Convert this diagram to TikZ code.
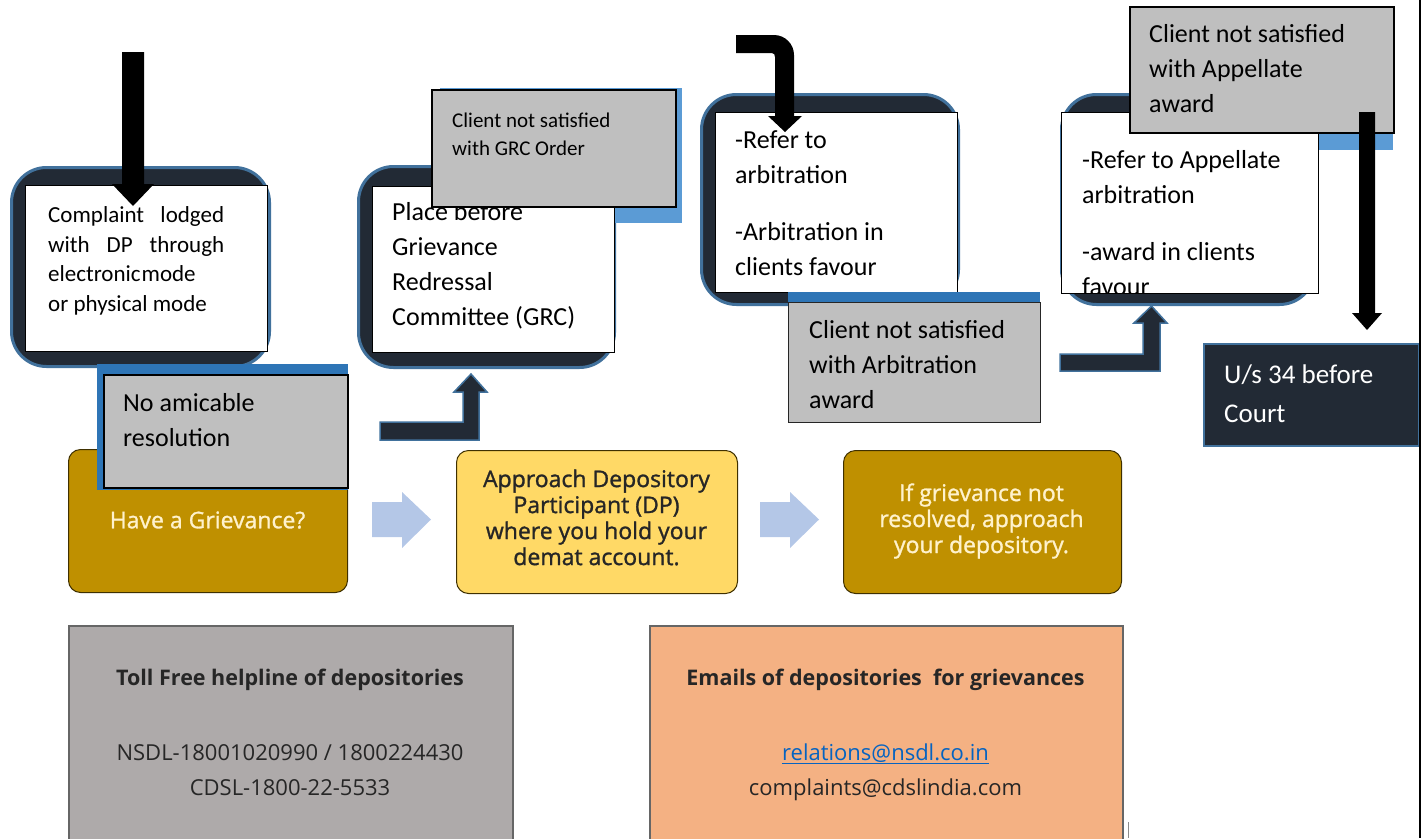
\documentclass[tikz,border=0pt]{standalone}
\usepackage{fontspec}
\newfontfamily\calfont{Carlito}
\newfontfamily\osfont{Open Sans}
\newfontfamily\osmidfont[FakeBold=1.2]{Open Sans}
\definecolor{navy}{HTML}{222A35}
\definecolor{bord}{HTML}{41719C}
\definecolor{lblue}{HTML}{5B9BD5}
\definecolor{mblue}{HTML}{2E75B6}
\definecolor{gbox}{HTML}{BFBFBF}
\definecolor{gold}{HTML}{BF9000}
\definecolor{lgold}{HTML}{FFD966}
\definecolor{cream}{HTML}{FFF2CC}
\definecolor{chev}{HTML}{B4C7E7}
\definecolor{helpg}{HTML}{AEAAAA}
\definecolor{orng}{HTML}{F4B183}
\definecolor{linkc}{HTML}{0563C1}
\definecolor{midtext}{HTML}{262626}
\definecolor{midborder}{HTML}{3F3000}
\tikzset{
  darkbox/.style={draw=bord, line width=3pt, fill=navy, rounded corners=35pt, inner sep=0, anchor=north west},
  whitebox/.style={draw=black, line width=0.8pt, fill=white, inner sep=0, anchor=north west},
  graybox/.style={draw=black, line width=1.8pt, fill=gbox, inner sep=0, anchor=north west},
  thingray/.style={draw=black!85, line width=0.8pt, fill=gbox, inner sep=0, anchor=north west},
  shadowbox/.style={inner sep=0, anchor=north west},
  flowtxt/.style={font=\calfont\fontsize{26}{35}\selectfont, align=left, inner sep=0, anchor=west},
  blockarrow/.style={fill=navy, draw=bord, line width=1.5pt},
  blackarrow/.style={fill=black},
  midbox/.style={rounded corners=12pt, draw=midborder, line width=1pt, inner sep=0, anchor=north west, minimum height=143},
  midtxt/.style={font=\osmidfont\fontsize{23}{26}\selectfont, align=center, inner sep=0},
  bottombox/.style={draw=black!60, line width=1.5pt, inner sep=0, anchor=north west},
  bottomtxt/.style={font=\osfont\fontsize{22}{26}\selectfont, inner sep=0, text=black!85, text height=16pt, text depth=5pt},
}
\begin{document}
\begin{tikzpicture}[x=1pt,y=-1pt]
\useasboundingbox (0,0) rectangle (1423,838);

% ---------- middle row ----------
\node[midbox, fill=gold, minimum width=279] (m1) at (68,449) {};
\node[midtxt, text=cream] (mt1) at (207.5,520) {Have a Grievance?};
\node[midbox, fill=lgold, minimum width=281] (m2) at (456,450) {};
\node[midtxt, text=midtext] (mt2) at (596.5,517.5) {Approach Depository\\Participant (DP)\\where you hold your\\demat account.};
\node[midbox, fill=gold, minimum width=278] (m3) at (843,450) {};
\node[midtxt, text=cream] (mt3) at (981.5,521) {If grievance not\\resolved, approach\\your depository.};
\fill[chev] (372,502) -- (402,502) -- (402,492) -- (431,519.5) -- (402,548) -- (402,537) -- (372,537) -- cycle;
\fill[chev] (760,502) -- (790,502) -- (790,492) -- (819,519.5) -- (790,548) -- (790,537) -- (760,537) -- cycle;

% ---------- step 1: complaint ----------
\node[darkbox, minimum width=258, minimum height=199] (d1) at (10,166) {};
\node[whitebox, minimum width=242, minimum height=166] (w1) at (25,185) {};
\node[flowtxt, font=\calfont\fontsize{23}{29.5}\selectfont] (t1) at (48,261)
  {\makebox[176pt][s]{Complaint lodged}\\\makebox[176pt][s]{with DP through}\\electronic\hspace{1pt}mode\\or physical mode};
\fill[blackarrow] (122,52) -- (144,52) -- (144,184) -- (154,184) -- (133,206) -- (112,184) -- (122,184) -- cycle;

% ---------- no amicable resolution ----------
\node[shadowbox, fill=mblue, minimum width=251, minimum height=126] (s1) at (97,364) {};
\node[graybox, minimum width=244, minimum height=113] (g1) at (103,374) {};
\node[flowtxt] (tg1) at (123,420) {No amicable\\resolution};

% ---------- bent arrow to GRC ----------
\draw[blockarrow] (380,422) -- (463,422) -- (463,392) -- (454,392) -- (471,374) -- (487,392) -- (479,392) -- (479,440) -- (380,440) -- cycle;

% ---------- GRC ----------
\node[darkbox, minimum width=256, minimum height=201] (d2) at (357,165) {};
\node[shadowbox, fill=lblue, minimum width=242, minimum height=135] (s2) at (440,88) {};
\node[whitebox, minimum width=242, minimum height=166] (w2) at (372,186) {};
\node[flowtxt] (t2) at (392,265.5) {Place before\\Grievance\\Redressal\\Committee (GRC)};
\node[graybox, minimum width=244, minimum height=117] (g2) at (431,89) {};
\node[flowtxt, font=\calfont\fontsize{21}{28}\selectfont] (tg2) at (452,134) {Client not satisfied\\with GRC Order};

% ---------- arbitration ----------
\node[darkbox, minimum width=257, minimum height=210] (d3) at (700,93) {};
\node[whitebox, minimum width=242, minimum height=180] (w3) at (715,112) {};
\node[flowtxt] (t3) at (735,203.5) {-Refer to\\arbitration\\[22pt]-Arbitration in\\clients favour};
\fill[blackarrow] (736,35) -- (774,35) .. controls (785,35) and (794,44) .. (794,55) -- (794,116) -- (802,116) -- (785,132) -- (768,116) -- (775,116) -- (775,57) .. controls (775,55) and (774,53) .. (772,53) -- (736,53) -- cycle;
\node[shadowbox, fill=mblue, minimum width=252, minimum height=118] (s3) at (788,292) {};
\node[thingray, minimum width=252, minimum height=120] (g3) at (788,302) {};
\node[flowtxt] (tg3) at (809,364.5) {Client not satisfied\\with Arbitration\\award};

% ---------- bent arrow to appellate ----------
\draw[blockarrow] (1060,354) -- (1143,354) -- (1143,323) -- (1134,323) -- (1151.5,306) -- (1167,323) -- (1160,323) -- (1160,371) -- (1060,371) -- cycle;

% ---------- appellate ----------
\node[darkbox, minimum width=253, minimum height=210] (d4) at (1060,93) {};
\node[shadowbox, fill=lblue, minimum width=258, minimum height=140] (s4) at (1135,10) {};
\node[whitebox, minimum width=257, minimum height=181] (w4) at (1061,112) {};
\begin{scope}
  \clip (1061,112) rectangle (1318,292.6);
  \node[flowtxt] (t4) at (1082,223.5) {-Refer to Appellate\\arbitration\\[22pt]-award in clients\\favour};
\end{scope}
\draw[black, line width=0.8pt] (w4.south west) -- (w4.south east);
\node[graybox, minimum width=264, minimum height=126] (g4) at (1129,6) {};
\node[flowtxt] (tg4) at (1149,69) {Client not satisfied\\with Appellate\\award};
\fill[blackarrow] (1359,112) -- (1375,112) -- (1375,313) -- (1382,313) -- (1367,330) -- (1352,313) -- (1359,313) -- cycle;

% ---------- court ----------
\node[draw=bord, line width=1.5pt, fill=navy, inner sep=0, anchor=north west, minimum width=215, minimum height=102] (c) at (1203,343) {};
\node[flowtxt, text=white, font=\calfont\fontsize{27}{39}\selectfont] (tc) at (1224,393.5) {U/s 34 before\\Court};

% ---------- bottom row ----------
\node[bottombox, fill=helpg, minimum width=444, minimum height=230] (b1) at (68,625) {};
\node[bottomtxt, font=\osfont\bfseries\fontsize{21.5}{26}\selectfont] (bt1) at (290,680) {Toll Free helpline of depositories};
\node[bottomtxt] (bt2) at (290,755) {NSDL-18001020990 / 1800224430};
\node[bottomtxt] (bt3) at (290,790) {CDSL-1800-22-5533};
\node[bottombox, fill=orng, minimum width=473, minimum height=230] (b2) at (649,625) {};
\node[bottomtxt, font=\osfont\bfseries\fontsize{21.5}{26}\selectfont] (bt4) at (885.5,680) {Emails of depositories\ \ for grievances};
\node[bottomtxt, text=linkc] (bt5) at (885.5,755) {relations@nsdl.co.in};
\draw[linkc, line width=1pt] ([yshift=-3pt]bt5.base west) -- ([yshift=-3pt]bt5.base east);
\node[bottomtxt] (bt6) at (885.5,790) {complaints@cdslindia.com};

% ---------- edges ----------
\coordinate (e1) at (1420,0);
\coordinate (e2) at (1420,838);
\draw[black, line width=1.5pt] (e1) -- (e2);
\coordinate (f1) at (1128,822);
\coordinate (f2) at (1128,838);
\draw[black!45, line width=1pt] (f1) -- (f2);
\end{tikzpicture}
\end{document}
